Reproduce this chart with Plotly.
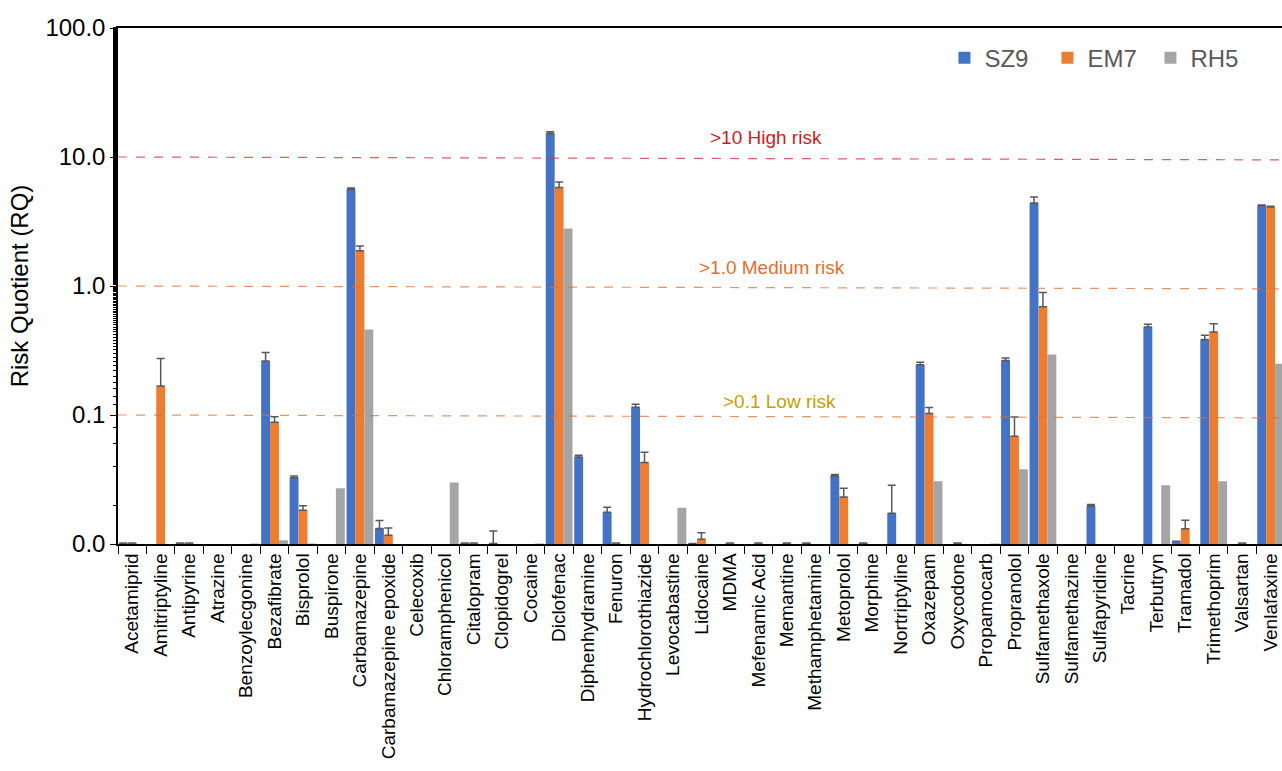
import math
import plotly.graph_objects as go

categories = ["Acetamiprid","Amitriptyline","Antipyrine","Atrazine","Benzoylecgonine","Bezafibrate","Bisprolol","Buspirone",
 "Carbamazepine","Carbamazepine epoxide","Celecoxib","Chloramphenicol","Citalopram","Clopidogrel","Cocaine","Diclofenac",
 "Diphenhydramine","Fenuron","Hydrochlorothiazide","Levocabastine","Lidocaine","MDMA","Mefenamic Acid","Memantine",
 "Methamphetamine","Metoprolol","Morphine","Nortriptyline","Oxazepam","Oxycodone","Propamocarb","Propranolol",
 "Sulfamethaxole","Sulfamethazine","Sulfapyridine","Tacrine","Terbutryn","Tramadol","Trimethoprim","Valsartan","Venlafaxine"]

N = None
sz9 = [0.0102,N,0.0102,N,N,0.262,0.0326,N,5.6,0.0132,N,N,0.0102,0.0101,N,15.2,
       0.0473,0.0176,0.115,N,0.0101,N,N,N,0.0102,0.0337,0.0102,0.0173,0.245,N,N,0.265,
       4.4,N,0.0197,N,0.48,0.0105,0.385,N,4.2]
sz9_err = [0,0,0,0,0,0.043,0.001,0,0.15,0.002,0,0,0,0.0025,0,0.5,
           0.0015,0.0017,0.006,0,0,0,0,0,0,0.0008,0,0.0113,0.011,0,0,0.012,
           0.5,0,0.0005,0,0.025,0,0.03,0,0.05]
em7 = [0.0102,0.168,0.0102,N,N,0.088,0.0183,N,1.88,0.0117,N,N,0.0102,N,N,5.8,
       N,0.0102,0.0429,N,0.0109,0.0102,0.0102,0.0102,N,0.0231,N,N,0.1025,0.0102,N,0.0685,
       0.69,N,N,N,N,0.0131,0.44,0.0102,4.1]
em7_err = [0,0.106,0,0,0,0.009,0.0015,0,0.16,0.0016,0,0,0,0,0,0.6,
           0,0,0.0086,0,0.0013,0,0,0,0,0.004,0,0,0.012,0,0,0.028,
           0.2,0,0,0,0,0.0022,0.07,0,0.05]
rh5 = [N,N,N,N,0.0101,0.0107,0.0101,0.0271,0.46,N,N,0.030,N,N,0.0101,2.79,
       N,N,N,0.0191,N,N,N,N,N,N,N,N,0.0307,N,0.0101,0.038,
       0.295,N,N,N,0.0286,N,0.0307,N,0.25]

thresholds = [10, 1.0, 0.1]
threshold_end = [9.5, 0.95, 0.095]
threshold_labels = [">10 High risk", ">1.0 Medium risk", ">0.1 Low risk"]
threshold_colors = ["#d9272e", "#e07030", "#e07030"]
label_colors = ["#c81e1e", "#e07030", "#c9a000"]
label_x = [0.557, 0.562, 0.568]
label_dy = [0.037, 0.035, 0.027]

Y_MIN, Y_MAX = -2, 2
def yfrac(v):
    return (math.log10(v) - Y_MIN) / (Y_MAX - Y_MIN)

fig = go.Figure()
for name, vals, err, col in [("SZ9", sz9, sz9_err, "#4472c4"), ("EM7", em7, em7_err, "#ed7d31"), ("RH5", rh5, None, "#a5a5a5")]:
    kw = {}
    if err is not None:
        kw["error_y"] = dict(type="data", symmetric=False, array=err, arrayminus=[0]*len(err),
                             color="#595959", thickness=1.5, width=4)
    fig.add_trace(go.Bar(name=name, x=categories, y=vals, marker_color=col, marker_line_width=0, **kw))

for t, te, c, lbl, lc, lx, dy in zip(thresholds, threshold_end, threshold_colors, threshold_labels, label_colors, label_x, label_dy):
    fig.add_shape(type="line", xref="paper", yref="paper", x0=0, x1=1, y0=yfrac(t), y1=yfrac(te),
                  line=dict(color=c, width=1.2, dash="dash"), opacity=0.75)
    fig.add_annotation(text=lbl, xref="paper", yref="paper", x=lx, y=yfrac(t) + dy, showarrow=False,
                       yanchor="middle", xanchor="center",
                       font=dict(size=19, color=lc, family="Liberation Sans"))

fig.update_layout(
    width=1282, height=771, margin=dict(l=118, r=0, t=28, b=227, autoexpand=False),
    plot_bgcolor="white", paper_bgcolor="white",
    barmode="group", bargap=0.06, bargroupgap=0,
    font=dict(family="Liberation Sans", color="black"),
    legend=dict(orientation="h", x=0.71, xanchor="left", y=0.985, yanchor="top",
                entrywidth=58, entrywidthmode="pixels",
                font=dict(size=24, color="#595959"), bgcolor="rgba(0,0,0,0)", traceorder="normal"),
)
fig.update_xaxes(type="category", range=[-0.5, 40.4], tickangle=-90, tickfont=dict(size=19),
                 showline=True, linecolor="black", linewidth=1.5, mirror=True, automargin=False,
                 ticks="outside", tickson="boundaries", ticklen=8, tickcolor="black")
fig.update_yaxes(type="log", range=[Y_MIN, Y_MAX], tickvals=[100, 10, 1, 0.1, 0.01],
                 ticktext=["100.0", "10.0", "1.0", "0.1", "0.0"], tickfont=dict(size=24),
                 showline=True, linecolor="black", linewidth=1.5, showgrid=False, zeroline=False,
                 ticks="outside", ticklen=6, tickcolor="black", automargin=False,
                 minor=dict(ticks="outside", ticklen=3, tickwidth=1, tickcolor="black", showgrid=False),
                 title=dict(text="Risk Quotient (RQ)", font=dict(size=24), standoff=10))

fig.write_html("out.html", config={"displayModeBar": False})
with open("out.html", encoding="utf-8") as f:
    html = f.read()
html = html.replace("<head>", "<head><style>html,body{margin:0;padding:0;}</style>", 1)
with open("out.html", "w", encoding="utf-8") as f:
    f.write(html)
